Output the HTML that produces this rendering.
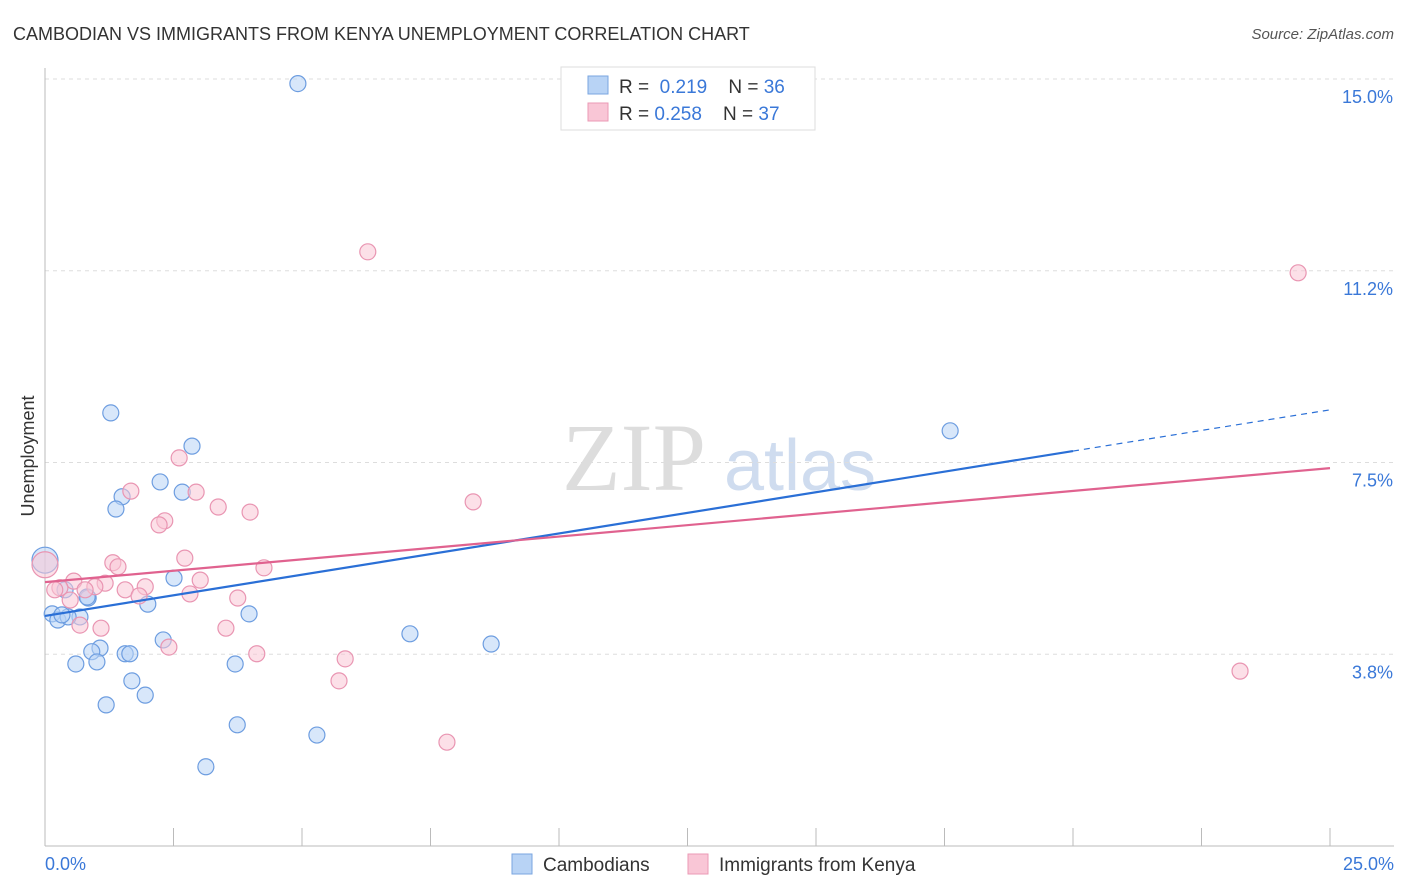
<!DOCTYPE html>
<html><head><meta charset="utf-8"><style>
body{margin:0;background:#fff;font-family:"Liberation Sans",sans-serif;}
svg{display:block}
</style></head><body>
<svg width="1406" height="892" id="chart">
<text x="13" y="40" font-size="18" fill="#333">CAMBODIAN VS IMMIGRANTS FROM KENYA UNEMPLOYMENT CORRELATION CHART</text>
<text x="1394" y="39" font-size="15" fill="#555" text-anchor="end" font-style="italic">Source: ZipAtlas.com</text>
<text x="634" y="490" font-size="96" fill="#ddd" font-family="Liberation Serif,serif" text-anchor="middle">ZIP</text>
<text x="800" y="490" font-size="72" fill="#cfdcef" text-anchor="middle">atlas</text>
<text x="34" y="456" font-size="18" fill="#333" text-anchor="middle" transform="rotate(-90 34 456)">Unemployment</text>
<g id="grid"></g><g id="axes"></g><g id="marks"></g>
<g>
<rect x="561" y="67" width="254" height="63" fill="#fff" stroke="#ddd"/>
<rect x="588" y="76" width="20" height="18" fill="#b8d3f5" stroke="#7aa6e0"/>
<text x="619" y="93" font-size="19" fill="#333">R = <tspan fill="#3a78d8">&#160;0.219</tspan>&#160;&#160;&#160; N = <tspan fill="#3a78d8">36</tspan></text>
<rect x="588" y="103" width="20" height="18" fill="#f9c6d6" stroke="#eb9ab5"/>
<text x="619" y="120" font-size="19" fill="#333">R = <tspan fill="#3a78d8">0.258</tspan>&#160;&#160;&#160; N = <tspan fill="#3a78d8">37</tspan></text>
</g>
<g>
<rect x="512" y="854" width="20" height="20" fill="#b8d3f5" stroke="#7aa6e0"/>
<text x="543" y="871" font-size="19" fill="#333">Cambodians</text>
<rect x="688" y="854" width="20" height="20" fill="#f9c6d6" stroke="#eb9ab5"/>
<text x="719" y="871" font-size="19" fill="#333">Immigrants from Kenya</text>
</g>
</svg>
<script>
const yTicks=[3.75,7.5,11.25,15];
const yTickLabels=["3.8%","7.5%","11.2%","15.0%"];
const xTickCount=10;
const blueX=[4.92,1.28,2.86,2.24,2.67,1.50,1.38,17.61,0,2.51,0.84,2.00,0.39,0.68,0.14,0.25,0.45,3.97,7.10,8.68,2.30,1.07,0.91,1.56,1.65,0.60,1.01,3.70,1.69,1.95,1.19,3.74,5.29,3.13,0.82,0.33];
const blueY=[14.91,8.47,7.82,7.12,6.92,6.83,6.59,8.12,5.59,5.24,4.85,4.73,5.01,4.48,4.54,4.42,4.48,4.54,4.15,3.95,4.03,3.87,3.80,3.76,3.76,3.56,3.60,3.56,3.23,2.95,2.76,2.37,2.17,1.55,4.87,4.52];
const pinkX=[6.28,24.38,2.61,1.67,2.94,3.37,3.99,2.33,2.22,8.33,2.72,1.32,1.42,4.26,0,0.56,1.17,1.95,3.02,0.29,0.97,1.56,1.83,2.82,3.75,0.68,1.09,3.52,2.41,4.12,5.84,5.72,23.25,7.82,0.19,0.78,0.49];
const pinkY=[11.62,11.21,7.59,6.94,6.92,6.63,6.53,6.36,6.28,6.73,5.63,5.54,5.46,5.44,5.50,5.18,5.14,5.07,5.20,5.05,5.07,5.01,4.89,4.93,4.85,4.32,4.26,4.26,3.89,3.76,3.66,3.23,3.42,2.03,5.01,5.01,4.81];
const blueTrend=[4.50,8.53];
const pinkTrend=[5.16,7.39];
const NS="http://www.w3.org/2000/svg";
const X0=45,X1=1330,Y0=846,Y15=79;
const sx=v=>X0+(X1-X0)*v/25;
const sy=v=>Y0-(Y0-Y15)*v/15;
function mk(t,a,p){const e=document.createElementNS(NS,t);for(const k in a)e.setAttribute(k,a[k]);p.appendChild(e);return e;}
const grid=document.getElementById('grid'),axes=document.getElementById('axes'),marks=document.getElementById('marks');
yTicks.forEach((t,i)=>{
 const l=mk('line',{x1:X0,x2:1394,y1:sy(t),y2:sy(t),stroke:'#ddd','stroke-dasharray':'4,4'},grid);
 
 
 const tx=mk('text',{x:1393,y:sy(t)+24,'font-size':18,fill:'#3a78d8','text-anchor':'end'},axes);
 tx.textContent=yTickLabels[i];
 
 
});
mk('line',{x1:X0,x2:X0,y1:68,y2:Y0,stroke:'#bbb'},axes);
mk('line',{x1:X0,x2:1394,y1:Y0,y2:Y0,stroke:'#bbb'},axes);
for(let i=0;i<=xTickCount;i++){const x=sx(25*i/xTickCount);const t=mk('line',{x1:x,x2:x,y1:Y0,y2:Y0-18,stroke:'#bbb'},axes);}
const xl=mk('text',{x:45,y:870,'font-size':18,fill:'#3a78d8'},axes);xl.textContent='0.0%';


const xr=mk('text',{x:1394,y:870,'font-size':18,fill:'#3a78d8','text-anchor':'end'},axes);xr.textContent='25.0%';


function pts(xs,ys,fill,stroke,name){xs.forEach((x,i)=>{const r=x===0?13:8;const c=mk('circle',{cx:sx(x),cy:sy(ys[i]),r:r,fill:fill,'fill-opacity':0.55,stroke:stroke,'stroke-width':1.2},marks);

});}
pts(blueX,blueY,'#b8d3f5','#6d9de0','cambodian-point');
pts(pinkX,pinkY,'#f9c6d6','#e995b2','kenya-point');
const bAt=v=>blueTrend[0]+(blueTrend[1]-blueTrend[0])*v/25;
const b1=mk('line',{x1:sx(0),y1:sy(bAt(0)),x2:sx(20),y2:sy(bAt(20)),stroke:'#2a6fd6','stroke-width':2.2},marks);


const b2=mk('line',{x1:sx(20),y1:sy(bAt(20)),x2:sx(25),y2:sy(bAt(25)),stroke:'#2a6fd6','stroke-width':1.2,'stroke-dasharray':'6,5'},marks);


const p1=mk('line',{x1:sx(0),y1:sy(pinkTrend[0]),x2:sx(25),y2:sy(pinkTrend[1]),stroke:'#e0628f','stroke-width':2.2},marks);


</script>
</body></html>
